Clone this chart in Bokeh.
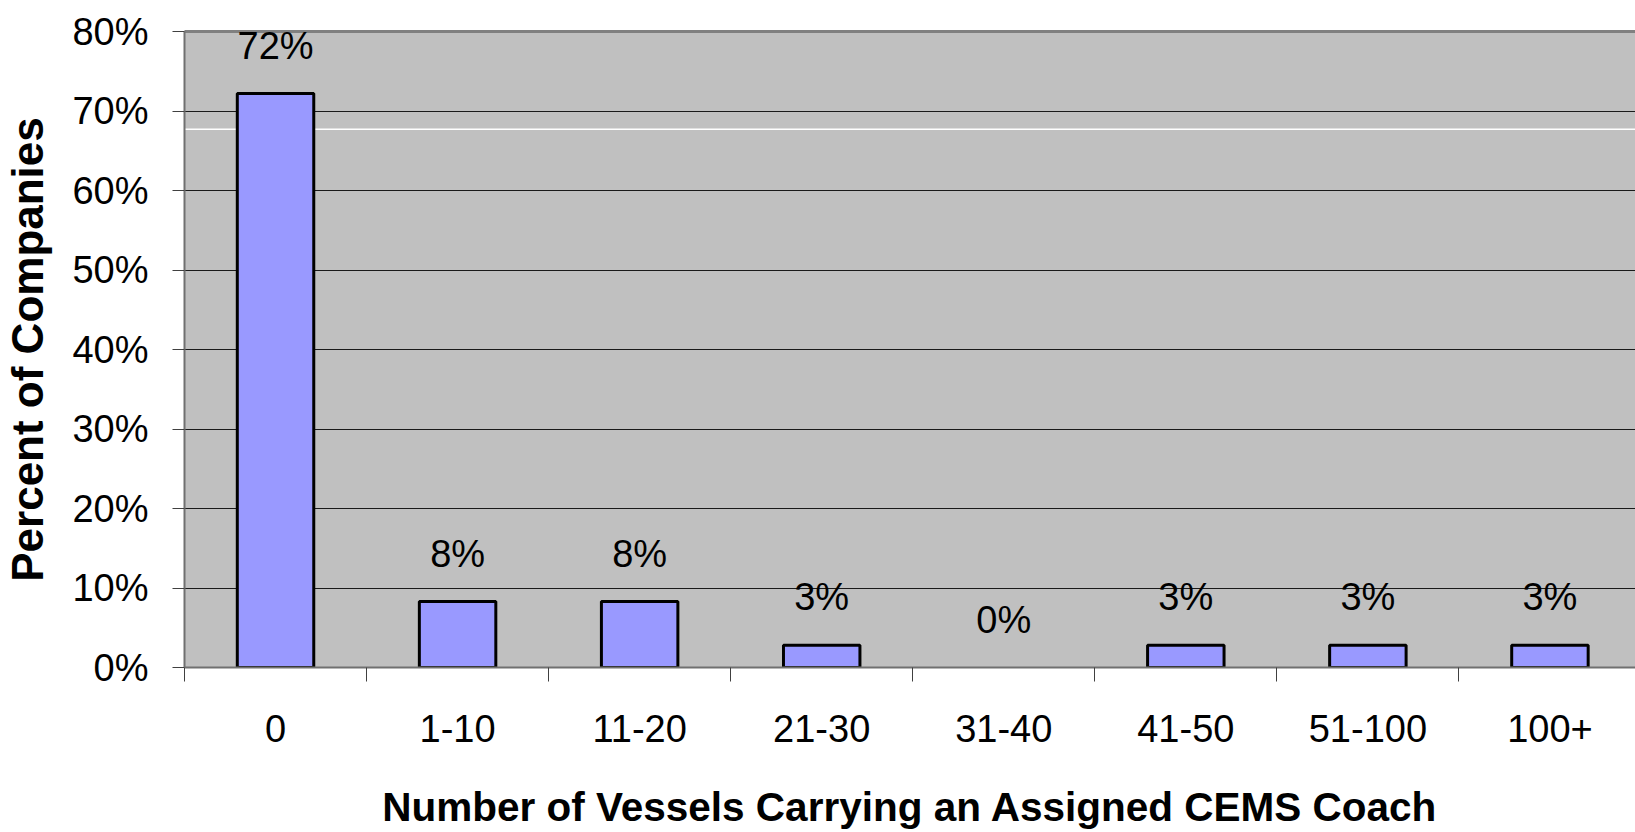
from bokeh.plotting import figure
from bokeh.models import (FixedTicker, PrintfTickFormatter, Range1d, ColumnDataSource,
                          LabelSet, Span, LinearAxis)
from bokeh.core.properties import value
from bokeh.embed import file_html
from bokeh.resources import INLINE

categories = ["0", "1-10", "11-20", "21-30", "31-40", "41-50", "51-100", "100+"]
percent = [72.2, 8.3, 8.3, 2.8, 0.0, 2.8, 2.8, 2.8]
bar_labels = ["72%", "8%", "8%", "3%", "0%", "3%", "3%", "3%"]
y_ticks = [0, 10, 20, 30, 40, 50, 60, 70, 80]

FONT = "Liberation Sans"

xpos = [i + 0.5 for i in range(len(categories))]
outline_alpha = [1.0 if v > 0 else 0.0 for v in percent]
src = ColumnDataSource(dict(x=xpos, top=percent, label=bar_labels, la=outline_alpha))

p = figure(width=1635, height=832, output_backend="svg", toolbar_location=None,
           x_range=Range1d(0, 7.97), y_range=Range1d(0, 80),
           min_border_left=184, min_border_top=31, min_border_bottom=164,
           min_border_right=0)

p.background_fill_color = "#c0c0c0"
p.border_fill_color = "white"
p.outline_line_color = None

# top border of the plot area (gray), drawn as an empty axis line
top_axis = LinearAxis(ticker=FixedTicker(ticks=[]), major_tick_out=0, major_tick_in=0,
                      minor_tick_out=0, minor_tick_in=0, major_label_text_color=None,
                      axis_line_color="#808080", axis_line_width=3)
p.add_layout(top_axis, "above")

# thin white line visible in the original plot area
p.add_layout(Span(location=67.7, dimension="width", line_color="white",
                  line_width=1.5, level="underlay"))

p.vbar(x="x", top="top", width=0.42, source=src, fill_color="#9999ff",
       line_color="black", line_width=3, line_alpha="la")

p.add_layout(LabelSet(x="x", y="top", text="label", source=src, y_offset=35,
                      text_align="center", text_baseline="alphabetic",
                      text_font=value(FONT), text_font_size="38px",
                      text_color="black"))

# grid
p.xgrid.visible = False
p.ygrid.ticker = FixedTicker(ticks=y_ticks[1:-1])
p.ygrid.grid_line_color = "#1a1a1a"
p.ygrid.grid_line_width = 1

# x axis
xa = p.below[0]
xa.ticker = FixedTicker(ticks=xpos, minor_ticks=list(range(len(categories) + 1)))
xa.major_label_overrides = {x: c for x, c in zip(xpos, categories)}
xa.major_tick_out = 0
xa.major_tick_in = 0
xa.minor_tick_out = 14
xa.minor_tick_in = 0
xa.minor_tick_line_color = "#404040"
xa.axis_line_color = "#707070"
xa.axis_line_width = 2
xa.major_label_standoff = 33
xa.major_label_text_font = FONT
xa.major_label_text_font_size = "38px"
xa.major_label_text_color = "black"
xa.axis_label = "Number of Vessels Carrying an Assigned CEMS Coach"
xa.axis_label_text_font = FONT
xa.axis_label_text_font_style = "bold"
xa.axis_label_text_font_size = "40.5px"
xa.axis_label_text_color = "black"
xa.axis_label_standoff = 39

# y axis
ya = p.left[0]
ya.ticker = FixedTicker(ticks=y_ticks, minor_ticks=[])
ya.formatter = PrintfTickFormatter(format="%d%%")
ya.major_tick_out = 12
ya.major_tick_in = 0
ya.major_tick_line_color = "#404040"
ya.axis_line_color = "#707070"
ya.axis_line_width = 2
ya.major_label_standoff = 24
ya.major_label_text_font = FONT
ya.major_label_text_font_size = "38px"
ya.major_label_text_color = "black"
ya.axis_label = "Percent of Companies"
ya.axis_label_text_font = FONT
ya.axis_label_text_font_style = "bold"
ya.axis_label_text_font_size = "44px"
ya.axis_label_text_color = "black"
ya.axis_label_standoff = 17

open("out.html", "w").write(file_html(p, INLINE))
